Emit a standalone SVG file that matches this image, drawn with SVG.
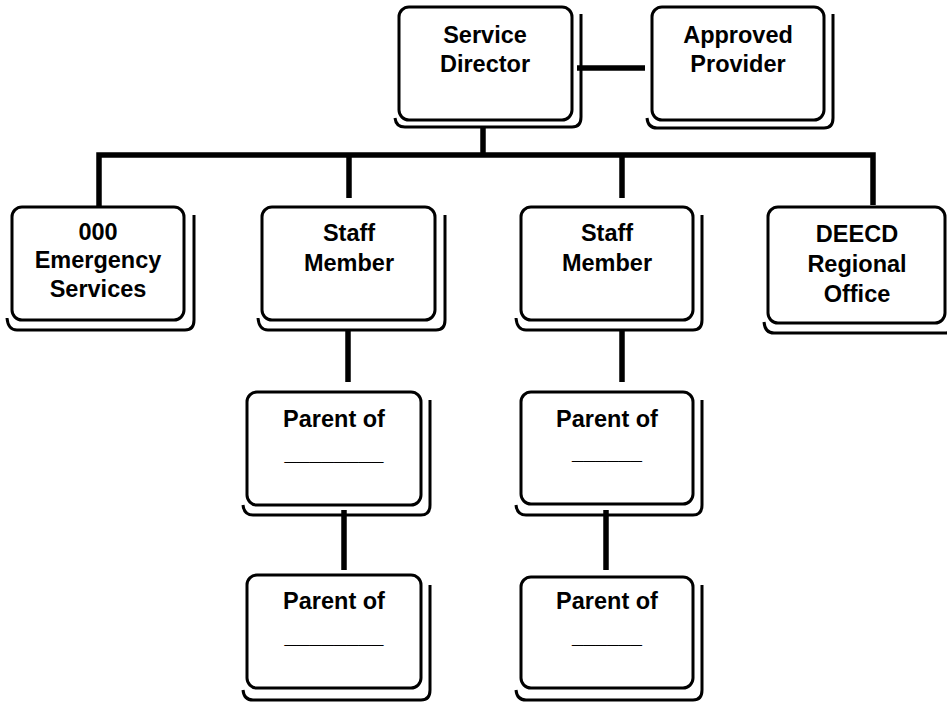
<svg xmlns="http://www.w3.org/2000/svg" width="947" height="702" viewBox="0 0 947 702">
<style>
.box{fill:#fff;stroke:#000;stroke-width:3}
.sh{fill:none;stroke:#000;stroke-width:3}
.t{font-family:"Liberation Sans",Arial,sans-serif;font-weight:bold;font-size:23.5px;text-anchor:middle;fill:#000}
.c{fill:none;stroke:#000;stroke-width:5.5;stroke-linecap:butt;stroke-linejoin:miter}
</style>
<rect width="947" height="702" fill="#fff"/>
<g id="connectors">
<line class="c" x1="577" y1="68" x2="645" y2="68"/>
<line class="c" x1="483" y1="127" x2="483" y2="155"/>
<polyline class="c" points="99,207 99,155 873,155 873,205"/>
<line class="c" x1="349" y1="155" x2="349" y2="198"/>
<line class="c" x1="622" y1="155" x2="622" y2="198"/>
<line class="c" x1="348" y1="330" x2="348" y2="382"/>
<line class="c" x1="622" y1="330" x2="622" y2="382"/>
<line class="c" x1="344" y1="510" x2="344" y2="570"/>
<line class="c" x1="606" y1="510" x2="606" y2="570"/>
</g>
<g id="service-director">
<path class="sh" d="M395,118 Q396,127 405,127 H572 Q581,127 581,117 V14"/>
<rect class="box" x="399" y="7" width="173" height="113" rx="10"/>
<text class="t" x="485" y="43">Service</text>
<text class="t" x="485" y="72">Director</text>
</g>
<g id="approved-provider">
<path class="sh" d="M647,118 Q648,128 657,128 H824 Q833,128 833,118 V14"/>
<rect class="box" x="652" y="7" width="172" height="113" rx="10"/>
<text class="t" x="738" y="43">Approved</text>
<text class="t" x="738" y="72">Provider</text>
</g>
<g id="emergency-services">
<path class="sh" d="M7,318 Q8,330 17,330 H185 Q194,330 194,320 V215"/>
<rect class="box" x="12" y="207" width="172" height="113" rx="10"/>
<text class="t" x="98" y="240">000</text>
<text class="t" x="98" y="268">Emergency</text>
<text class="t" x="98" y="297">Services</text>
</g>
<g id="staff-member-1">
<path class="sh" d="M258,318 Q259,330 268,330 H436 Q445,330 445,320 V215"/>
<rect class="box" x="262" y="207" width="173" height="113" rx="10"/>
<text class="t" x="349" y="241">Staff</text>
<text class="t" x="349" y="271">Member</text>
</g>
<g id="staff-member-2">
<path class="sh" d="M516,318 Q517,330 526,330 H693 Q702,330 702,320 V215"/>
<rect class="box" x="521" y="207" width="172" height="113" rx="10"/>
<text class="t" x="607" y="241">Staff</text>
<text class="t" x="607" y="271">Member</text>
</g>
<g id="deecd-regional-office">
<path class="sh" d="M764,322 Q765,333 774,333 H945 Q954,333 954,323 V215"/>
<rect class="box" x="768" y="207" width="177" height="116" rx="10"/>
<text class="t" x="857" y="242">DEECD</text>
<text class="t" x="857" y="272">Regional</text>
<text class="t" x="857" y="302">Office</text>
</g>
<g id="parent-1a">
<path class="sh" d="M243,505 Q244,515 253,515 H421 Q430,515 430,505 V400"/>
<rect class="box" x="247" y="392" width="174" height="113" rx="10"/>
<text class="t" x="334" y="427">Parent of</text>
<text class="t" x="334" y="460" textLength="99" lengthAdjust="spacingAndGlyphs">________</text>
</g>
<g id="parent-1b">
<path class="sh" d="M243,690 Q244,700 253,700 H421 Q430,700 430,690 V585"/>
<rect class="box" x="247" y="575" width="174" height="113" rx="10"/>
<text class="t" x="334" y="609">Parent of</text>
<text class="t" x="334" y="643" textLength="99" lengthAdjust="spacingAndGlyphs">________</text>
</g>
<g id="parent-2a">
<path class="sh" d="M516,505 Q517,515 526,515 H693 Q702,515 702,505 V400"/>
<rect class="box" x="521" y="392" width="172" height="112" rx="10"/>
<text class="t" x="607" y="427">Parent of</text>
<text class="t" x="607" y="459" textLength="70" lengthAdjust="spacingAndGlyphs">______</text>
</g>
<g id="parent-2b">
<path class="sh" d="M516,690 Q517,700 526,700 H693 Q702,700 702,690 V585"/>
<rect class="box" x="521" y="577" width="172" height="111" rx="10"/>
<text class="t" x="607" y="609">Parent of</text>
<text class="t" x="607" y="643" textLength="70" lengthAdjust="spacingAndGlyphs">______</text>
</g>
</svg>
